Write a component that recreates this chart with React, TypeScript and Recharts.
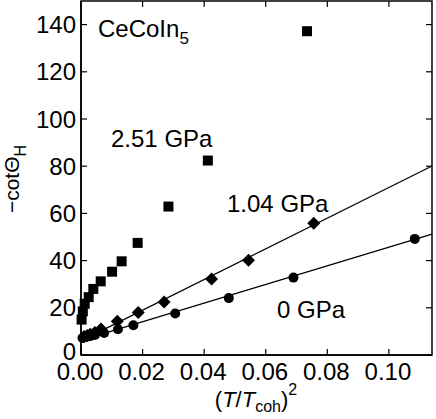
import React from 'react';
import { ScatterChart, Scatter, XAxis, YAxis, ReferenceArea } from 'recharts';

// 0 GPa (circles)
const P0_X = [0.0005, 0.0012, 0.002, 0.003, 0.0045, 0.0075, 0.012, 0.017, 0.0306, 0.048, 0.069, 0.1084];
const P0_Y = [7.2, 7.5, 7.8, 8.0, 8.5, 9.3, 10.9, 12.6, 17.6, 24.1, 32.8, 49.2];

// 1.04 GPa (diamonds)
const P1_X = [0.001, 0.002, 0.003, 0.0045, 0.0065, 0.0118, 0.0186, 0.027, 0.0424, 0.0544, 0.0756];
const P1_Y = [7.8, 8.3, 8.8, 9.5, 11.0, 14.3, 18.0, 22.5, 32.2, 40.2, 55.8];

// 2.51 GPa (squares)
const P2_X = [0.0002, 0.0006, 0.0012, 0.0025, 0.004, 0.0064, 0.0101, 0.0132, 0.0184, 0.0284, 0.0412, 0.0734];
const P2_Y = [15.0, 18.5, 21.7, 24.5, 28.0, 31.2, 35.3, 39.7, 47.5, 62.9, 82.4, 137.2];

// linear fits, end points
const FIT0_X = [0, 0.114];
const FIT0_Y = [6.2, 51.2];
const FIT1_X = [0, 0.114];
const FIT1_Y = [6.0, 80.1];

const X_TICKS = [0, 0.02, 0.04, 0.06, 0.08, 0.1];
const Y_TICKS = [0, 20, 40, 60, 80, 100, 120, 140];
const X_MAX = 0.114;
const Y_MAX = 150;

const zip = (xs: number[], ys: number[]) => xs.map((x, i) => ({ x, y: ys[i] }));

const W = 436;
const H = 419;
const LEFT = 81;
const RIGHT = 432;
const TOP = 1;
const BOTTOM = 355;
const FONT = '"Liberation Sans", Arial, sans-serif';

const XTick = (props: any) => {
  const { x, payload } = props;
  return (
    <g>
      <line x1={x} x2={x} y1={BOTTOM} y2={BOTTOM - 6} stroke="#000" strokeWidth={1.2} />
      <line x1={x} x2={x} y1={TOP} y2={TOP + 6} stroke="#000" strokeWidth={1.2} />
      <text x={x - 1} y={380} textAnchor="middle" fontSize={24} fontFamily={FONT} fill="#000">
        {payload.value.toFixed(2)}
      </text>
    </g>
  );
};

const YTick = (props: any) => {
  const { y, payload } = props;
  return (
    <g>
      <line x1={LEFT} x2={LEFT + 6} y1={y} y2={y} stroke="#000" strokeWidth={1.2} />
      <line x1={RIGHT} x2={RIGHT - 6} y1={y} y2={y} stroke="#000" strokeWidth={1.2} />
      <text x={76} y={payload.value === 0 ? y - 4 : y} dy="0.36em" textAnchor="end" fontSize={24} fontFamily={FONT} fill="#000">
        {payload.value}
      </text>
    </g>
  );
};

const Circle = (p: any) => <circle cx={p.cx} cy={p.cy} r={5} fill="#000" />;
const Square = (p: any) => <rect x={p.cx - 5} y={p.cy - 5} width={10} height={10} fill="#000" />;
const Diamond = (p: any) => (
  <polygon
    points={`${p.cx},${p.cy - 6.5} ${p.cx + 6.5},${p.cy} ${p.cx},${p.cy + 6.5} ${p.cx - 6.5},${p.cy}`}
    fill="#000"
  />
);
const NoDot = () => <g />;

export default function App() {
  return (
    <div style={{ position: 'absolute', left: 0, top: 0, width: W, height: H, background: '#fff' }}>
      <ScatterChart width={W} height={H} margin={{ top: TOP, right: W - RIGHT, bottom: 0, left: 0 }}>
        <XAxis
          type="number"
          dataKey="x"
          domain={[0, X_MAX]}
          ticks={X_TICKS}
          height={H - BOTTOM}
          axisLine={{ stroke: '#000', strokeWidth: 1.5 }}
          tickLine={false}
          tick={<XTick />}
          interval={0}
        />
        <YAxis
          type="number"
          dataKey="y"
          domain={[0, Y_MAX]}
          ticks={Y_TICKS}
          width={LEFT}
          axisLine={{ stroke: '#000', strokeWidth: 1.5 }}
          tickLine={false}
          tick={<YTick />}
          interval={0}
        />
        <ReferenceArea x1={0} x2={X_MAX} y1={0} y2={Y_MAX} fill="none" stroke="#000" strokeWidth={1.5} />
        <Scatter data={zip(FIT0_X, FIT0_Y)} line={{ stroke: '#000', strokeWidth: 1.2 }} shape={<NoDot />} isAnimationActive={false} />
        <Scatter data={zip(FIT1_X, FIT1_Y)} line={{ stroke: '#000', strokeWidth: 1.2 }} shape={<NoDot />} isAnimationActive={false} />
        <Scatter data={zip(P0_X, P0_Y)} shape={<Circle />} isAnimationActive={false} />
        <Scatter data={zip(P1_X, P1_Y)} shape={<Diamond />} isAnimationActive={false} />
        <Scatter data={zip(P2_X, P2_Y)} shape={<Square />} isAnimationActive={false} />
      </ScatterChart>
      <svg width={W} height={H} style={{ position: 'absolute', left: 0, top: 0, pointerEvents: 'none' }} fontFamily={FONT} fill="#000">
        <text x={98} y={37} fontSize={24} fill="#000">
          CeCoIn<tspan fontSize={17} dy={7}>5</tspan>
        </text>
        <text x={111} y={147} fontSize={24} fill="#000">2.51 GPa</text>
        <text x={227} y={212} fontSize={24} fill="#000">1.04 GPa</text>
        <text x={277} y={318} fontSize={24} fill="#000">0 GPa</text>
        <text transform="translate(19,179) rotate(-90)" textAnchor="middle" fontSize={21} fill="#000">
          −cotΘ<tspan fontSize={16} dy={7}>H</tspan>
        </text>
        <text x={256} y={407} textAnchor="middle" fontSize={22} fill="#000">
          (<tspan fontStyle="italic">T</tspan>/<tspan fontStyle="italic">T</tspan>
          <tspan fontSize={16} dy={5}>coh</tspan>
          <tspan dy={-5}>)</tspan>
          <tspan fontSize={16} dy={-12}>2</tspan>
        </text>
      </svg>
    </div>
  );
}
